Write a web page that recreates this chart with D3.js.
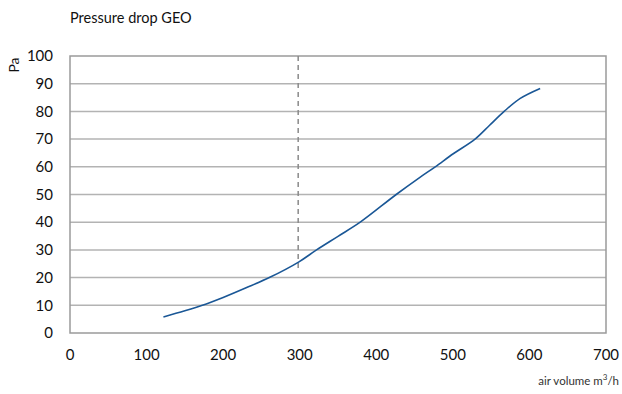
<!DOCTYPE html>
<html>
<head>
<meta charset="utf-8">
<script src="https://cdn.jsdelivr.net/npm/d3@7"></script>
<style>
  html, body { margin: 0; padding: 0; background: #fff; }
  svg { display: block; font-family: "Lato", "Open Sans", sans-serif; }
</style>
</head>
<body>
<svg id="chart" width="622" height="394"></svg>
<script>
// Pressure drop curve: air volume (m³/h) against pressure (Pa)
const airVolume = [122, 150, 178, 200, 230, 261, 299, 322, 350, 379, 426, 457, 477, 501, 529, 548, 567, 588, 614];
const pressure  = [5.8, 8.0, 10.5, 12.8, 16.3, 20.1, 25.7, 30, 34.9, 40, 50, 56.2, 60, 64.8, 70, 75, 80, 84.7, 88.3];
const xTicks = [0, 100, 200, 300, 400, 500, 600, 700];
const yTicks = [0, 10, 20, 30, 40, 50, 60, 70, 80, 90, 100];
// Reference marker at the nominal volume
const markerVolume = 298;
const markerRange = [23, 100];

const svg = d3.select("#chart");
const m = { left: 70, right: 606, top: 56, bottom: 333 };

const x = d3.scaleLinear().domain([0, 700]).range([m.left, m.right]);
const y = d3.scaleLinear().domain([0, 100]).range([m.bottom, m.top]);

// horizontal gridlines
svg.append("g").selectAll("line").data(yTicks.filter(d => d > 0 && d < 100)).join("line")
  .attr("x1", m.left).attr("x2", m.right)
  .attr("y1", d => y(d)).attr("y2", d => y(d))
  .attr("stroke", "#b3b3b3").attr("stroke-width", 1.5);

// plot frame
svg.append("rect")
  .attr("x", m.left).attr("y", m.top)
  .attr("width", m.right - m.left).attr("height", m.bottom - m.top)
  .attr("fill", "none").attr("stroke", "#9a9a9a").attr("stroke-width", 1.5);

// y axis labels
svg.append("g").selectAll("text").data(yTicks).join("text")
  .attr("x", 53).attr("y", d => y(d)).attr("dy", "0.35em")
  .attr("text-anchor", "end").attr("font-size", 15).attr("fill", "#111")
  .text(d => d);

// x axis labels
svg.append("g").selectAll("text").data(xTicks).join("text")
  .attr("x", d => x(d)).attr("y", 355).attr("dy", "0.35em")
  .attr("text-anchor", "middle").attr("font-size", 15).attr("fill", "#111")
  .text(d => d);

// dashed marker
svg.append("line")
  .attr("x1", x(markerVolume)).attr("x2", x(markerVolume))
  .attr("y1", y(markerRange[1])).attr("y2", y(markerRange[0]))
  .attr("stroke", "#8a8a8a").attr("stroke-width", 1.5)
  .attr("stroke-dasharray", "5,4");

// curve
const line = d3.line()
  .x((d, i) => x(airVolume[i]))
  .y(d => y(d))
  .curve(d3.curveCatmullRom.alpha(0.5));
svg.append("path").datum(pressure)
  .attr("d", line)
  .attr("fill", "none").attr("stroke", "#1a5796").attr("stroke-width", 1.6);

// title
svg.append("text").attr("x", 70).attr("y", 23)
  .attr("font-size", 14.5).attr("fill", "#111").text("Pressure drop GEO");

// y axis unit
svg.append("text")
  .attr("transform", "translate(19,65) rotate(-90)")
  .attr("text-anchor", "middle").attr("font-size", 14).attr("fill", "#111")
  .text("Pa");

// x axis unit
const xl = svg.append("text").attr("x", 619).attr("y", 385)
  .attr("text-anchor", "end").attr("font-size", 11.5).attr("fill", "#333");
xl.append("tspan").text("air volume m");
xl.append("tspan").attr("font-size", 8).attr("dy", -5).text("3");
xl.append("tspan").attr("dy", 5).text("/h");
</script>
</body>
</html>
